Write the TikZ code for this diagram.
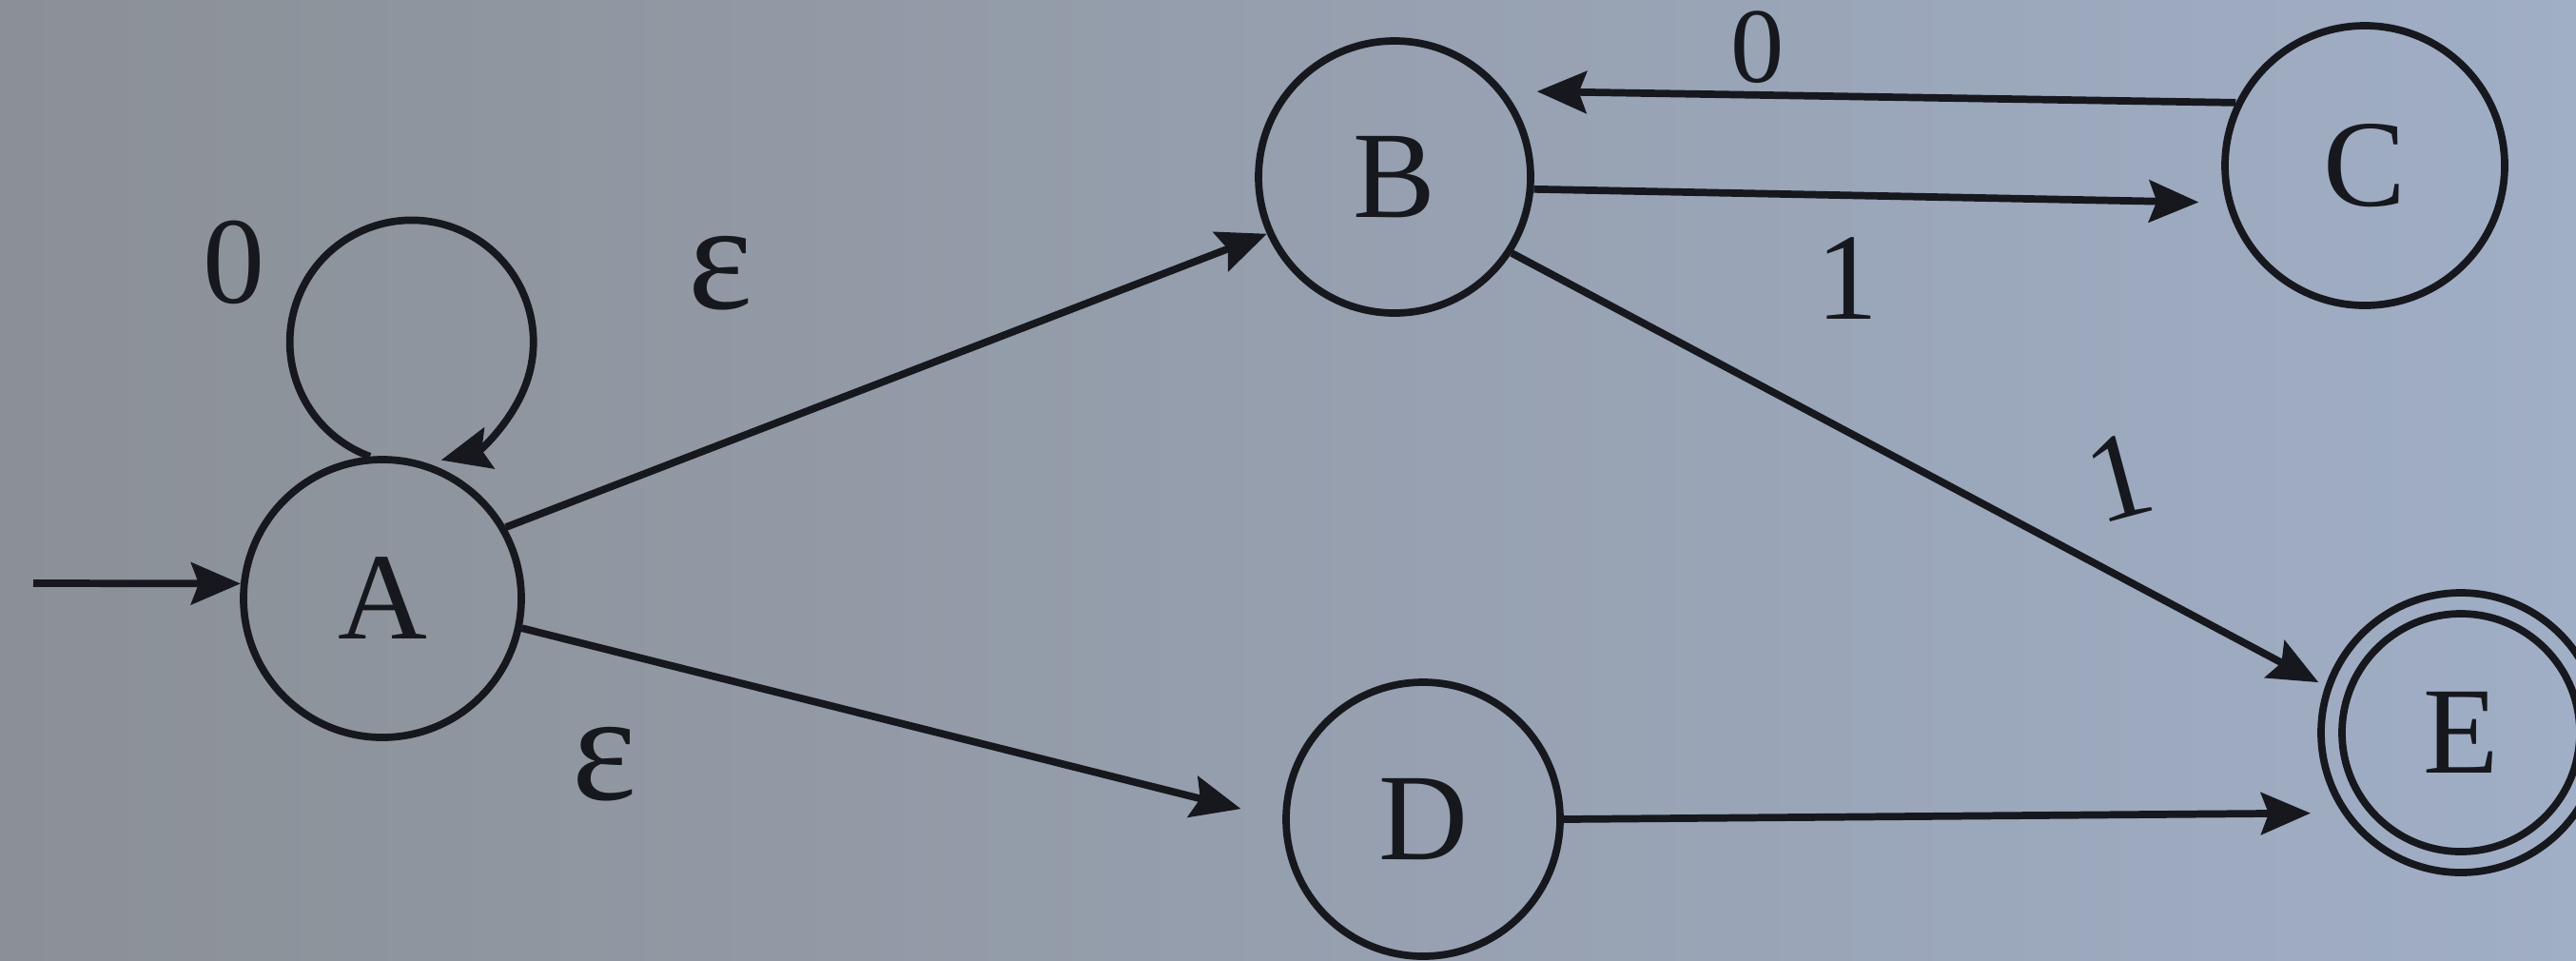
\documentclass[tikz,border=0pt]{standalone}
\usepackage{fontspec}
\setmainfont{Liberation Serif}
\usetikzlibrary{arrows.meta}
\definecolor{bgL}{RGB}{139,144,150}
\definecolor{bgM}{RGB}{156,161,169}
\definecolor{bgR}{RGB}{160,174,198}
\definecolor{ink}{RGB}{22,24,30}
\begin{document}
\begin{tikzpicture}[
  state/.style={circle, draw=ink, line width=2.2pt, inner sep=0pt, text=ink, font=\fontsize{37}{40}\selectfont},
  lbl/.style={text=ink, inner sep=0pt, font=\fontsize{37}{40}\selectfont},
  eps/.style={text=ink, inner sep=0pt, font=\fontsize{46}{50}\selectfont},
  trans/.style={draw=ink, line width=2.2pt, -{Stealth[length=0.52cm, width=0.44cm, inset=0.08cm]}},
]
\fill[left color=bgL, middle color=bgM, right color=bgR] (0,0) rectangle (27.08,-10.09);
\useasboundingbox (0,0) rectangle (27.08,-10.09);

\node[state, minimum size=2.92cm] (A) at (4.02,-6.29) {A};
\node[state, minimum size=2.86cm] (B) at (14.66,-1.86) {B};
\node[state, minimum size=2.94cm] (C) at (24.86,-1.74) {C};
\node[state, minimum size=2.88cm] (D) at (14.96,-8.61) {D};
\node[state, minimum size=2.94cm] (E) at (25.87,-7.70) {E};
\draw[ink, line width=2.2pt] (E.center) circle[radius=1.25cm];

\coordinate (start) at (0.35,-6.13);
\draw[trans] (start) -- (A.174);
\draw[trans] (A.95) arc[start angle=250, end angle=-76, radius=1.28cm];
\draw[trans] (A.30) -- (B.204);
\draw[trans, shorten >=0.45cm] (A.-12) -- (D.180);
\draw[trans, shorten >=0.29cm] (B.-5) -- (C.195);
\draw[trans, shorten >=0.34cm] (C.154) -- (B.38);
\draw[trans, shorten >=0.08cm] (B.-33) -- (E.161);
\draw[trans, shorten >=0.33cm] (D.0) -- (E.214);

\node[lbl] (l0) at (2.46,-2.76) {0};
\node[eps] (e1) at (7.57,-2.87) {ε};
\node[eps] (e2) at (6.35,-8.03) {ε};
\node[lbl, font=\fontsize{32}{36}\selectfont] (l0b) at (18.48,-0.50) {0};
\node[lbl] (l1) at (19.42,-2.93) {1};
\node[lbl, rotate=15] (l1b) at (22.28,-5.02) {1};
\end{tikzpicture}
\end{document}
